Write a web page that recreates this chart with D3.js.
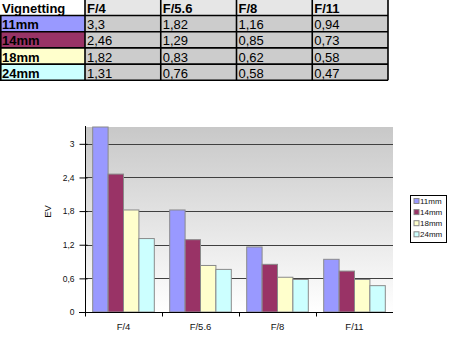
<!DOCTYPE html>
<html>
<head>
<meta charset="utf-8">
<script src="https://cdn.jsdelivr.net/npm/d3@7"></script>
<style>
html,body{margin:0;padding:0;background:#fff;}
svg{display:block;font-family:Arial,"Liberation Sans",sans-serif;}
</style>
</head>
<body>
<svg id="c" width="456" height="358"></svg>
<script>
const categories = ["F/4", "F/5.6", "F/8", "F/11"];
const seriesNames = ["11mm", "14mm", "18mm", "24mm"];
const v11 = [3.3, 1.82, 1.16, 0.94];
const v14 = [2.46, 1.29, 0.85, 0.73];
const v18 = [1.82, 0.83, 0.62, 0.58];
const v24 = [1.31, 0.76, 0.58, 0.47];
const yTicks = [0, 0.6, 1.2, 1.8, 2.4, 3];
const tableTitle = "Vignetting";
const colors = ["#9999ff", "#993366", "#ffffcc", "#ccffff"];

const values = [v11, v14, v18, v24];
const fmt = d => String(d).replace(".", ",");
const svg = d3.select("#c");

// ---------- table ----------
const colX = d3.scaleLinear().domain([0, 1]).range([85, 160.75]);
const colLeft = i => i === 0 ? 0 : colX(i - 1);
const colRight = i => colX(i);
const rowTop = r => r === 0 ? 0 : 15.5 + (r - 1) * 16.2;
const rowBot = r => 15.5 + r * 16.2;
const tbl = svg.append("g");
const cells = [];
cells.push({r: 0, c: 0, text: tableTitle, fill: "#ffffff", bold: true});
categories.forEach((cat, j) => cells.push({r: 0, c: j + 1, text: cat, fill: "#e6e6e6", bold: true}));
seriesNames.forEach((s, i) => {
  cells.push({r: i + 1, c: 0, text: s, fill: colors[i], bold: true});
  values[i].forEach((v, j) => cells.push({r: i + 1, c: j + 1, text: fmt(v), fill: "#cccccc", bold: false}));
});
tbl.selectAll("rect").data(cells).join("rect")
  .attr("x", d => colLeft(d.c)).attr("y", d => rowTop(d.r))
  .attr("width", d => colRight(d.c) - colLeft(d.c)).attr("height", d => rowBot(d.r) - rowTop(d.r))
  .attr("fill", d => d.fill);
tbl.selectAll("text").data(cells).join("text")
  .attr("x", d => colLeft(d.c) + 2).attr("y", d => rowBot(d.r) - 2.5)
  .attr("font-size", 13).attr("font-weight", d => d.bold ? "bold" : "normal")
  .attr("fill", "#000").text(d => d.text);
const lines = tbl.append("g").attr("stroke", "#000").attr("stroke-width", 1.6);
for (let r = 0; r <= 4; r++) lines.append("line").attr("x1", 0).attr("x2", colRight(4)).attr("y1", rowBot(r)).attr("y2", rowBot(r));
lines.append("line").attr("x1", 0.8).attr("x2", 0.8).attr("y1", rowBot(0)).attr("y2", rowBot(4));
for (let c = 0; c <= 4; c++) lines.append("line").attr("x1", colRight(c)).attr("x2", colRight(c)).attr("y1", 0).attr("y2", rowBot(4));

// ---------- chart ----------
const pLeft = 85, pRight = 393, pTop = 127, pBottom = 312;
const y = d3.scaleLinear().domain([0, 3.3]).range([pBottom, pTop]);
const x0 = d3.scaleBand().domain(categories).range([pLeft, pRight]);
const bw = x0.bandwidth();
const x1 = d3.scaleBand().domain(seriesNames).range([bw * 0.1, bw * 0.9]);

const defs = svg.append("defs");
const grad = defs.append("linearGradient").attr("id", "bg").attr("x1", 0).attr("y1", 0).attr("x2", 0).attr("y2", 1);
grad.append("stop").attr("offset", "0%").attr("stop-color", "#c8c8c8");
grad.append("stop").attr("offset", "100%").attr("stop-color", "#ffffff");
svg.append("rect").attr("x", pLeft).attr("y", pTop).attr("width", pRight - pLeft).attr("height", pBottom - pTop).attr("fill", "url(#bg)");

svg.append("g").selectAll("line").data(yTicks.filter(t => t > 0)).join("line")
  .attr("x1", pLeft).attr("x2", pRight).attr("y1", d => Math.round(y(d)) + 0.5).attr("y2", d => Math.round(y(d)) + 0.5)
  .attr("stroke", "#404040").attr("stroke-width", 1);

const flat = [];
seriesNames.forEach((s, i) => categories.forEach((c, j) => flat.push({s, c, v: values[i][j], color: colors[i]})));
svg.append("g").selectAll("rect").data(flat).join("rect")
  .attr("x", d => x0(d.c) + x1(d.s)).attr("width", x1.bandwidth())
  .attr("y", d => y(d.v)).attr("height", d => y(0) - y(d.v))
  .attr("fill", d => d.color).attr("stroke", "#8a8a8a").attr("stroke-width", 1);

const yAxis = d3.axisLeft(y).tickValues(yTicks).tickFormat(fmt).tickSizeInner(6).tickSizeOuter(0).tickPadding(5);
const ya = svg.append("g").attr("transform", `translate(${pLeft + 0.5},0)`).call(yAxis);
ya.select(".domain").attr("stroke", "#000").attr("d", `M0,${pTop - 1}V${pBottom + 4}`);
ya.selectAll(".tick line").attr("stroke", "#000").attr("x2", -6).attr("x1", 2);
ya.selectAll(".tick text").attr("font-size", 8.5).attr("font-family", "Arial,Liberation Sans,sans-serif").attr("fill", "#111");

const xa = svg.append("g").attr("transform", `translate(0,${pBottom + 0.5})`);
xa.append("line").attr("x1", pLeft - 6).attr("x2", pRight).attr("y1", 0).attr("y2", 0).attr("stroke", "#000");
xa.selectAll("line.t").data(categories).join("line").attr("class", "t")
  .attr("x1", d => Math.round(x0(d)) + 0.5).attr("x2", d => Math.round(x0(d)) + 0.5).attr("y1", 0).attr("y2", 4).attr("stroke", "#000");
xa.selectAll("text").data(categories).join("text")
  .attr("x", d => x0(d) + bw / 2).attr("y", 17).attr("text-anchor", "middle")
  .attr("font-size", 9.5).attr("fill", "#111").text(d => d);

svg.append("text").attr("transform", `translate(51,${(pTop + pBottom) / 2 - 8}) rotate(-90)`)
  .attr("text-anchor", "middle").attr("font-size", 9.5).attr("fill", "#111").text("EV");

const lg = svg.append("g").attr("transform", "translate(410.5,195.5)");
lg.append("rect").attr("width", 36).attr("height", 47).attr("fill", "#fff").attr("stroke", "#000");
const items = lg.selectAll("g").data(seriesNames).join("g").attr("transform", (d, i) => `translate(0,${5.5 + i * 11.1})`);
items.append("rect").attr("x", 3.5).attr("y", -2.5).attr("width", 5).attr("height", 5)
  .attr("fill", (d, i) => colors[i]).attr("stroke", "#888");
items.append("text").attr("x", 9.5).attr("y", 3).attr("font-size", 8).attr("fill", "#111").text(d => d);
</script>
</body>
</html>
